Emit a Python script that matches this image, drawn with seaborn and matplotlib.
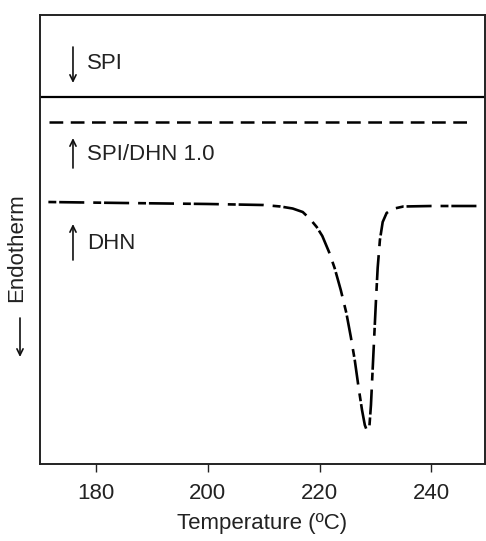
import numpy as np
import pandas as pd
import matplotlib
matplotlib.use("Agg")
import matplotlib.pyplot as plt
import seaborn as sns

# ---- data ----
spi_T = [170.0, 249.6]
spi_y = [81.74, 81.74]

blend_T = [171.6, 247.7]
blend_y = [76.17, 76.17]

dhn_T = [171.5, 185.0, 200.0, 210.0, 213.0, 215.2, 217.0, 218.3, 219.5, 220.5,
         221.7, 222.7, 223.8, 224.8, 225.6, 226.3, 227.0, 227.6, 228.1, 228.5,
         228.9, 229.2, 229.5, 229.8, 230.1, 230.4, 230.8, 231.3, 232.0, 233.0,
         235.0, 240.0, 249.6]
dhn_y = [58.35, 58.13, 57.91, 57.68, 57.35, 56.90, 56.12, 54.57, 52.78, 50.78,
         47.22, 43.65, 38.75, 33.63, 28.29, 23.16, 16.93, 12.03, 8.69, 7.35,
         8.02, 13.14, 20.94, 28.73, 36.53, 43.65, 49.89, 53.90, 55.90, 56.79,
         57.35, 57.46, 57.46]

xticks = [180, 200, 220, 240]
labels = ["SPI", "SPI/DHN 1.0", "DHN"]

sns.set_style("ticks")
plt.rcParams["font.family"] = ["Liberation Sans", "DejaVu Sans"]

fig = plt.figure(figsize=(4.86, 5.41), dpi=100)
ax = fig.add_axes([40/486, 1-464/541, 445/486, 449/541])

sns.lineplot(x=spi_T, y=spi_y, ax=ax, color="black", lw=1.6, sort=False)
sns.lineplot(x=blend_T, y=blend_y, ax=ax, color="black", lw=1.8, sort=False).lines[-1].set_dashes([5.5, 3.0])
ln = sns.lineplot(x=dhn_T, y=dhn_y, ax=ax, color="black", lw=1.9, sort=False).lines[-1]
ln.set_dashes([3.0, 1.1, 9.5, 3.4])

ax.set_xlim(170, 249.6)
ax.set_ylim(0, 100)
ax.set_xticks(xticks)
ax.set_yticks([])
ax.tick_params(axis="x", direction="out", length=6, width=1.0, pad=8,
               labelsize=16, colors="#222222")
for s in ax.spines.values():
    s.set_visible(True)
    s.set_linewidth(1.4)
    s.set_color("#222222")

ax.set_xlabel("Temperature (ºC)", fontsize=16, color="#222222", labelpad=6)
ax.set_ylabel("Endotherm", fontsize=16, color="#222222")
ax.yaxis.set_label_coords(-0.029, 0.483)

arrow_kw = dict(arrowstyle="->,head_length=0.45,head_width=0.22", lw=1.2, color="#111111",
                shrinkA=0, shrinkB=0)
# SPI (down)
ax.annotate("", xy=(175.9, 84.86), xytext=(175.9, 92.87), arrowprops=arrow_kw)
ax.text(178.4, 89.09, labels[0], fontsize=16, va="center", ha="left", color="#222222")
# SPI/DHN (up)
ax.annotate("", xy=(175.9, 72.6), xytext=(175.9, 65.92), arrowprops=arrow_kw)
ax.text(178.4, 68.82, labels[1], fontsize=16, va="center", ha="left", color="#222222")
# DHN (up)
ax.annotate("", xy=(175.9, 53.45), xytext=(175.9, 45.43), arrowprops=arrow_kw)
ax.text(178.4, 49.0, labels[2], fontsize=16, va="center", ha="left", color="#222222")

# arrow for y label
ax.annotate("", xy=(20/486, 1-357/541), xytext=(20/486, 1-318/541),
            xycoords="figure fraction", textcoords="figure fraction",
            arrowprops=arrow_kw, annotation_clip=False)

fig.savefig("out.png", dpi=100)
